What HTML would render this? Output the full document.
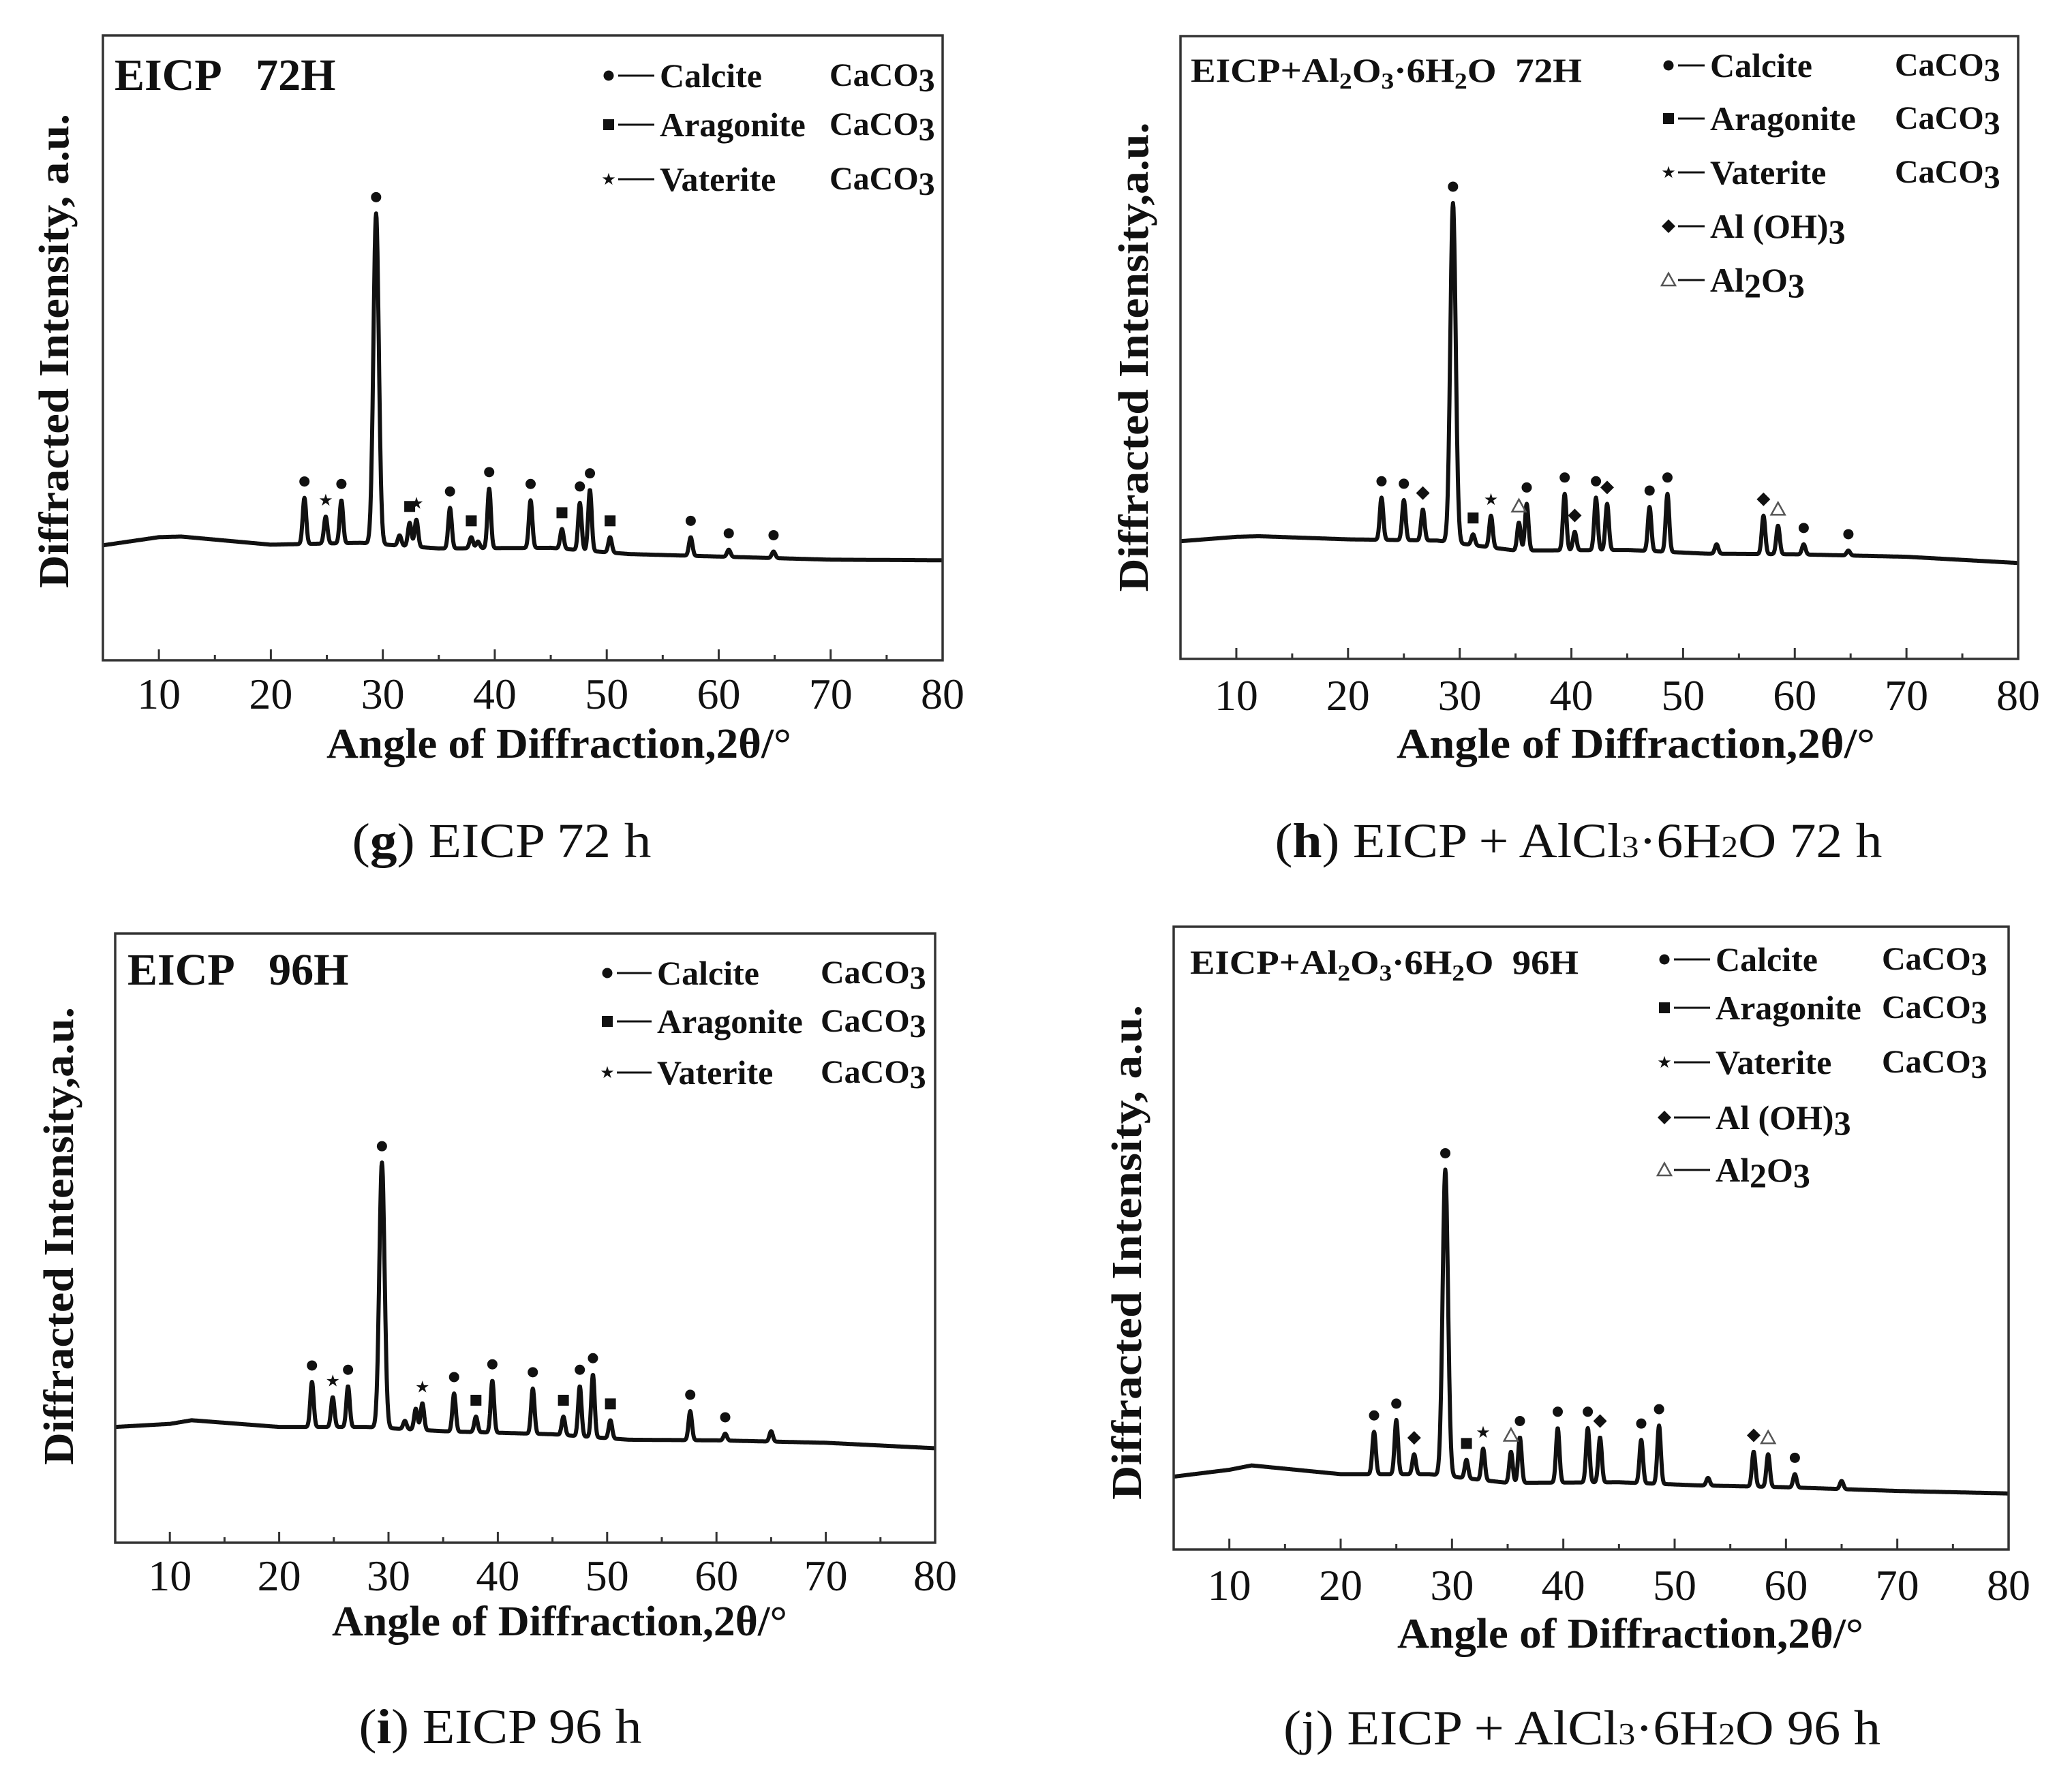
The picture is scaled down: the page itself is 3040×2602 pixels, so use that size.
<!DOCTYPE html>
<html><head><meta charset="utf-8"><style>
html,body{margin:0;padding:0;background:#fff;}
svg{display:block;}
text{white-space:pre;}
</style></head><body>
<svg id="fig" width="3040" height="2602" viewBox="0 0 3040 2602" xmlns="http://www.w3.org/2000/svg" font-family="Liberation Serif, serif">
<rect x="0" y="0" width="3040" height="2602" fill="#fff"/>
</svg>
<script>
// shared baseline sample angles
const baseX = [5,10,12,20,28,35,45,52,60,70,80];
const xTicks = [10,20,30,40,50,60,70,80];
const xTickLabels = ["10","20","30","40","50","60","70","80"];

// panel g
const gBase = [18.4,19.7,19.8,18.5,18.8,17.9,18.0,17.0,16.6,16.1,16.0];
const gPeakPos = [23.0,24.9,26.3,29.4,31.5,32.4,33.0,36.0,37.9,38.5,39.5,43.2,46.0,47.6,48.5,50.3,57.5,60.9,64.9];
const gPeakHt = [26,23,25.6,71.5,20,22,22.5,24.4,19.7,19,27.5,25.6,21,25.2,27.3,19.7,19.7,17.7,17.4];
const gPeakType = ["c","v","c","c","","a","v","c","a","","c","c","a","c","c","a","c","c","c"];
// panel h
const hBase = [18.9,19.6,19.7,19.2,19.0,17.4,17.5,16.9,16.8,16.4,15.4];
const hPeakPos = [23.0,25.0,26.7,29.4,31.2,32.8,35.3,36.0,39.4,40.3,42.2,43.2,47.0,48.6,53.0,57.2,58.5,60.8,64.8];
const hPeakHt = [25.9,25.5,24,73.2,20,23,21.9,24.9,26.5,20.4,25.9,24.9,24.4,26.5,18.4,23,21.4,18.4,17.4];
const hPeakType = ["c","c","d","c","a","v","t","c","c","d","c","d","c","c","","d","t","c","c"];
// panel i
const iBase = [19.0,19.5,20.1,19.0,19.0,18.3,17.8,16.9,16.8,16.4,15.5];
const iPeakPos = [23.0,24.9,26.3,29.4,31.5,32.5,33.1,36.0,38.0,39.5,43.2,46.0,47.5,48.7,50.3,57.6,60.8,65.0];
const iPeakHt = [26.4,23.9,25.7,62.4,20,22,22.9,24.5,20.7,26.6,25.3,20.7,25.7,27.6,20.1,21.6,17.9,18.3];
const iPeakType = ["c","v","c","c","","","v","c","a","c","c","a","c","c","a","c","c",""];
// panel j
const jBase = [11.7,12.8,13.5,12.1,12.1,10.7,10.8,10.3,10.0,9.4,9.0];
const jPeakPos = [23.0,25.0,26.6,29.4,31.3,32.8,35.3,36.1,39.5,42.2,43.3,47.0,48.6,53.0,57.1,58.4,60.8,65.0];
const jPeakHt = [18.9,20.8,15.3,61,14.4,16.2,15.7,18,19.5,19.5,18,17.6,19.9,11.5,15.7,15.3,12.1,11];
const jPeakType = ["c","c","d","c","a","v","t","c","c","c","d","c","c","","d","t","c",""];

const NS = "http://www.w3.org/2000/svg";
const svg = document.getElementById("fig");
function mk(tag, attrs, parent){
  const e = document.createElementNS(NS, tag);
  for (const k in attrs) e.setAttribute(k, attrs[k]);
  (parent||svg).appendChild(e);
  return e;
}

function drawPanel(p){
  const g = mk("g", {});
  
  
  const sx = v => p.x0 + (v-5)/75*(p.x1-p.x0);
  const sy = v => p.y1 - v/100*(p.y1-p.y0);
  function baseAt(x){
    for (let k=0;k<baseX.length-1;k++){
      if (x<=baseX[k+1]){ const t=(x-baseX[k])/(baseX[k+1]-baseX[k]); return p.base[k]+t*(p.base[k+1]-p.base[k]); }
    }
    return p.base[p.base.length-1];
  }
  let d = "";
  for (let x=5; x<=80.0001; x+=0.04){
    let y = baseAt(x);
    for (let k=0;k<p.pos.length;k++){
      const a = p.ht[k]-baseAt(p.pos[k]);
      const w = a>30 ? 0.34 : 0.22;
      const u = (x-p.pos[k])/w;
      if (Math.abs(u)<6) y += a*Math.exp(-u*u);
    }
    d += (d?"L":"M") + sx(x).toFixed(1) + "," + sy(y).toFixed(1);
  }
  const path = mk("path", {d:d, fill:"none", stroke:"#111", "stroke-width":"6", "stroke-linejoin":"round"}, g);
  
  
  for (let k=0;k<p.pos.length;k++){
    const t = p.type[k]; if (!t) continue;
    const cx = sx(p.pos[k]), cy = sy(p.ht[k]) - 24;
    const m = drawMarker(g, t, cx, cy);
    
    
  }
  const fr = mk("rect", {x:p.x0, y:p.y0, width:p.x1-p.x0, height:p.y1-p.y0, fill:"none", stroke:"#333", "stroke-width":"3.5"}, g);
  
  
  for (let v=5; v<=80; v+=5){
    const major = v%10===0;
    const tk = mk("line", {x1:sx(v), x2:sx(v), y1:p.y1, y2:p.y1-(major?16:8), stroke:"#333", "stroke-width":"3"}, g);
    
    
  }
  xTicks.forEach((v,k)=>{
    const tl = mk("text", {x:sx(v), y:p.tickY, "font-size":"64", "text-anchor":"middle", fill:"#111"}, g);
    tl.textContent = xTickLabels[k];
    
    
  });
  const xt = mk("text", {x:p.xtX, y:p.xtY, "font-size":"62", "font-weight":"bold", "text-anchor":"middle", fill:"#111", textLength:p.xtLen, lengthAdjust:"spacingAndGlyphs"}, g);
  xt.textContent = "Angle of Diffraction,2θ/°";
  
  
  const yt = mk("text", {x:0, y:0, "font-size":"62", "font-weight":"bold", "text-anchor":"middle", fill:"#111", textLength:p.ytLen, lengthAdjust:"spacingAndGlyphs", transform:"translate("+p.ytX+","+p.ytY+") rotate(-90)"}, g);
  yt.textContent = p.ytText;
  
  
  const tt = mk("text", {x:p.tX, y:p.tY, "font-size":p.tSize, "font-weight":"bold", fill:"#111"}, g);
  tt.innerHTML = p.tHtml;
  if (p.tLen){ tt.setAttribute("textLength", p.tLen); tt.setAttribute("lengthAdjust","spacingAndGlyphs"); }
  
  
  p.legend.forEach((L,k)=>{
    const y = p.legY[k];
    const lg = mk("g", {}, g);
    
    
    drawMarker(lg, L[0], p.legMX, y);
    mk("line", {x1:p.legMX+14, x2:p.legTX-8, y1:y, y2:y, stroke:"#111", "stroke-width":"3"}, lg);
    const t1 = mk("text", {x:p.legTX, y:y+17, "font-size":"50", "font-weight":"bold", fill:"#111"}, lg);
    t1.innerHTML = L[1];
    if (L[2]){
      const t2 = mk("text", {x:p.legCX, y:y+15, "font-size":"48", "font-weight":"bold", fill:"#111"}, lg);
      t2.innerHTML = 'CaCO<tspan dy="8">3</tspan>';
    }
  });
  const cp = mk("text", {x:p.cX, y:p.cY, "font-size":"72", "text-anchor":"middle", fill:"#111", textLength:p.cLen, lengthAdjust:"spacingAndGlyphs"}, g);
  cp.innerHTML = p.cHtml;
  
  
}

function drawMarker(parent, t, cx, cy){
  let e;
  if (t==="c") e = mk("circle", {cx:cx, cy:cy, r:7.5, fill:"#111"}, parent);
  else if (t==="a") e = mk("rect", {x:cx-8, y:cy-8, width:16, height:16, fill:"#111"}, parent);
  else if (t==="d") e = mk("polygon", {points:(cx)+","+(cy-10)+" "+(cx+10)+","+cy+" "+cx+","+(cy+10)+" "+(cx-10)+","+cy, fill:"#111"}, parent);
  else if (t==="t") e = mk("polygon", {points:cx+","+(cy-10)+" "+(cx+10)+","+(cy+8)+" "+(cx-10)+","+(cy+8), fill:"none", stroke:"#555", "stroke-width":"2.5"}, parent);
  else { e = mk("text", {x:cx, y:cy+8, "font-size":"24", "text-anchor":"middle", fill:"#111", "font-family":"DejaVu Sans, sans-serif"}, parent); e.textContent = "★"; }
  return e;
}

const leg3 = [["c","Calcite",1],["a","Aragonite",1],["v","Vaterite",1]];
const leg5 = [["c","Calcite",1],["a","Aragonite",1],["v","Vaterite",1],["d","Al (OH)<tspan dy=\"8\">3</tspan>",0],["t","Al<tspan dy=\"8\">2</tspan><tspan dy=\"-8\">O</tspan><tspan dy=\"8\">3</tspan>",0]];
const alTitle = h => 'EICP+Al<tspan font-size="34" dy="10">2</tspan><tspan dy="-10">O</tspan><tspan font-size="34" dy="10">3</tspan><tspan dy="-10">·6H</tspan><tspan font-size="34" dy="10">2</tspan><tspan dy="-10">O\u00a0\u00a0'+h+'</tspan>';
const alCap = h => '(<tspan font-weight="bold">'+h[0]+'</tspan>) EICP + AlCl<tspan font-size="46">3</tspan>·6H<tspan font-size="46">2</tspan>O '+h.slice(1);

drawPanel({id:"g", x0:151, x1:1383, y0:52, y1:969, base:gBase, pos:gPeakPos, ht:gPeakHt, type:gPeakType,
  tickY:1040, xtX:820, xtY:1112, xtLen:682, ytX:100, ytY:515, ytLen:696, ytText:"Diffracted Intensity, a.u.",
  tX:168, tY:132, tSize:66, tHtml:"EICP\u00a0\u00a0 72H", tLen:0,
  legend:leg3, legY:[111,183,263], legMX:893, legTX:968, legCX:1217,
  cX:736, cY:1258, cLen:439, cHtml:'(<tspan font-weight="bold">g</tspan>) EICP 72 h'});
drawPanel({id:"h", x0:1732, x1:2961, y0:53, y1:967, base:hBase, pos:hPeakPos, ht:hPeakHt, type:hPeakType,
  tickY:1042, xtX:2400, xtY:1112, xtLen:702, ytX:1684, ytY:524, ytLen:689, ytText:"Diffracted Intensity,a.u.",
  tX:1747, tY:120, tSize:50, tHtml:alTitle("72H"), tLen:574,
  legend:leg5, legY:[96,174,253,332,411], legMX:2448, legTX:2509, legCX:2780,
  cX:2316, cY:1258, cLen:891, cHtml:alCap("h72 h")});
drawPanel({id:"i", x0:169, x1:1372, y0:1370, y1:2264, base:iBase, pos:iPeakPos, ht:iPeakHt, type:iPeakType,
  tickY:2334, xtX:821, xtY:2400, xtLen:668, ytX:107, ytY:1814, ytLen:672, ytText:"Diffracted Intensity,a.u.",
  tX:187, tY:1445, tSize:66, tHtml:"EICP\u00a0\u00a0 96H", tLen:0,
  legend:leg3, legY:[1428,1499,1574], legMX:891, legTX:964, legCX:1204,
  cX:734, cY:2558, cLen:415, cHtml:'(<tspan font-weight="bold">i</tspan>) EICP 96 h'});
drawPanel({id:"j", x0:1722, x1:2947, y0:1360, y1:2274, base:jBase, pos:jPeakPos, ht:jPeakHt, type:jPeakType,
  tickY:2348, xtX:2392, xtY:2418, xtLen:684, ytX:1674, ytY:1838, ytLen:726, ytText:"Diffracted Intensity, a.u.",
  tX:1746, tY:1429, tSize:50, tHtml:alTitle("96H"), tLen:570,
  legend:leg5, legY:[1408,1479,1559,1640,1717], legMX:2442, legTX:2517, legCX:2761,
  cX:2321, cY:2560, cLen:876, cHtml:'(j) EICP + AlCl<tspan font-size="46">3</tspan>·6H<tspan font-size="46">2</tspan>O 96 h'});
</script>
</body></html>
